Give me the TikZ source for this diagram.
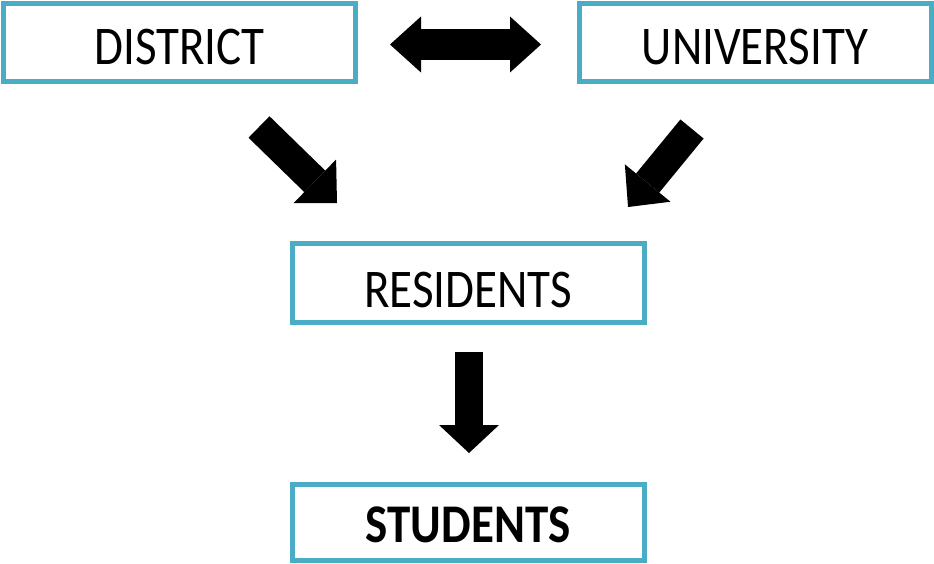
\documentclass[tikz,border=0pt]{standalone}
\usepackage{fontspec}
\setmainfont{Carlito}
\usetikzlibrary{arrows.meta}
\definecolor{boxblue}{HTML}{4BACC6}
\newcommand{\boxtext}[2]{\raisebox{-#1}[0pt][0pt]{\scalebox{1}[1.16]{#2}}}
\tikzset{
  box/.style={draw=boxblue, line width=5pt, fill=white, rectangle,
    minimum width=352pt, inner sep=0pt, font=\fontsize{47pt}{56pt}\selectfont, text=black},
  fat/.style={line width=#1, draw=black}
}
\begin{document}
\begin{tikzpicture}[x=1pt,y=-1pt]
\useasboundingbox (0,0) rectangle (934,564);
\node[box, minimum height=78pt] (district) at (179.5,42.5) {\boxtext{22.5pt}{DISTRICT}};
\node[box, minimum height=78pt] (university) at (755,42.5) {\boxtext{22pt}{UNIVERSITY}};
\node[box, minimum height=79pt] (residents) at (468,282.5) {\boxtext{24.5pt}{RESIDENTS}};
\node[box, minimum height=76pt] (students) at (468,522) {\boxtext{20.5pt}{\textbf{STUDENTS}}};
% block arrows
\coordinate (da1) at (390,44.5);
\coordinate (da2) at (541,44.5);
\draw[fat=31pt, {Triangle[length=31pt,width=56pt,line width=0pt]}-{Triangle[length=31pt,width=56pt,line width=0pt]}] (da1) -- (da2);
\coordinate (dl1) at (259,127);
\coordinate (dl2) at (337,203);
\draw[fat=30pt, -{Triangle[length=31pt,width=61pt,line width=0pt]}] (dl1) -- (dl2);
\coordinate (ur1) at (692,129);
\coordinate (ur2) at (628,207);
\draw[fat=30pt, -{Triangle[length=31pt,width=59pt,line width=0pt]}] (ur1) -- (ur2);
\coordinate (rs1) at (469,352);
\coordinate (rs2) at (469,453);
\draw[fat=28pt, -{Triangle[length=28pt,width=60pt,line width=0pt]}] (rs1) -- (rs2);
\end{tikzpicture}
\end{document}
